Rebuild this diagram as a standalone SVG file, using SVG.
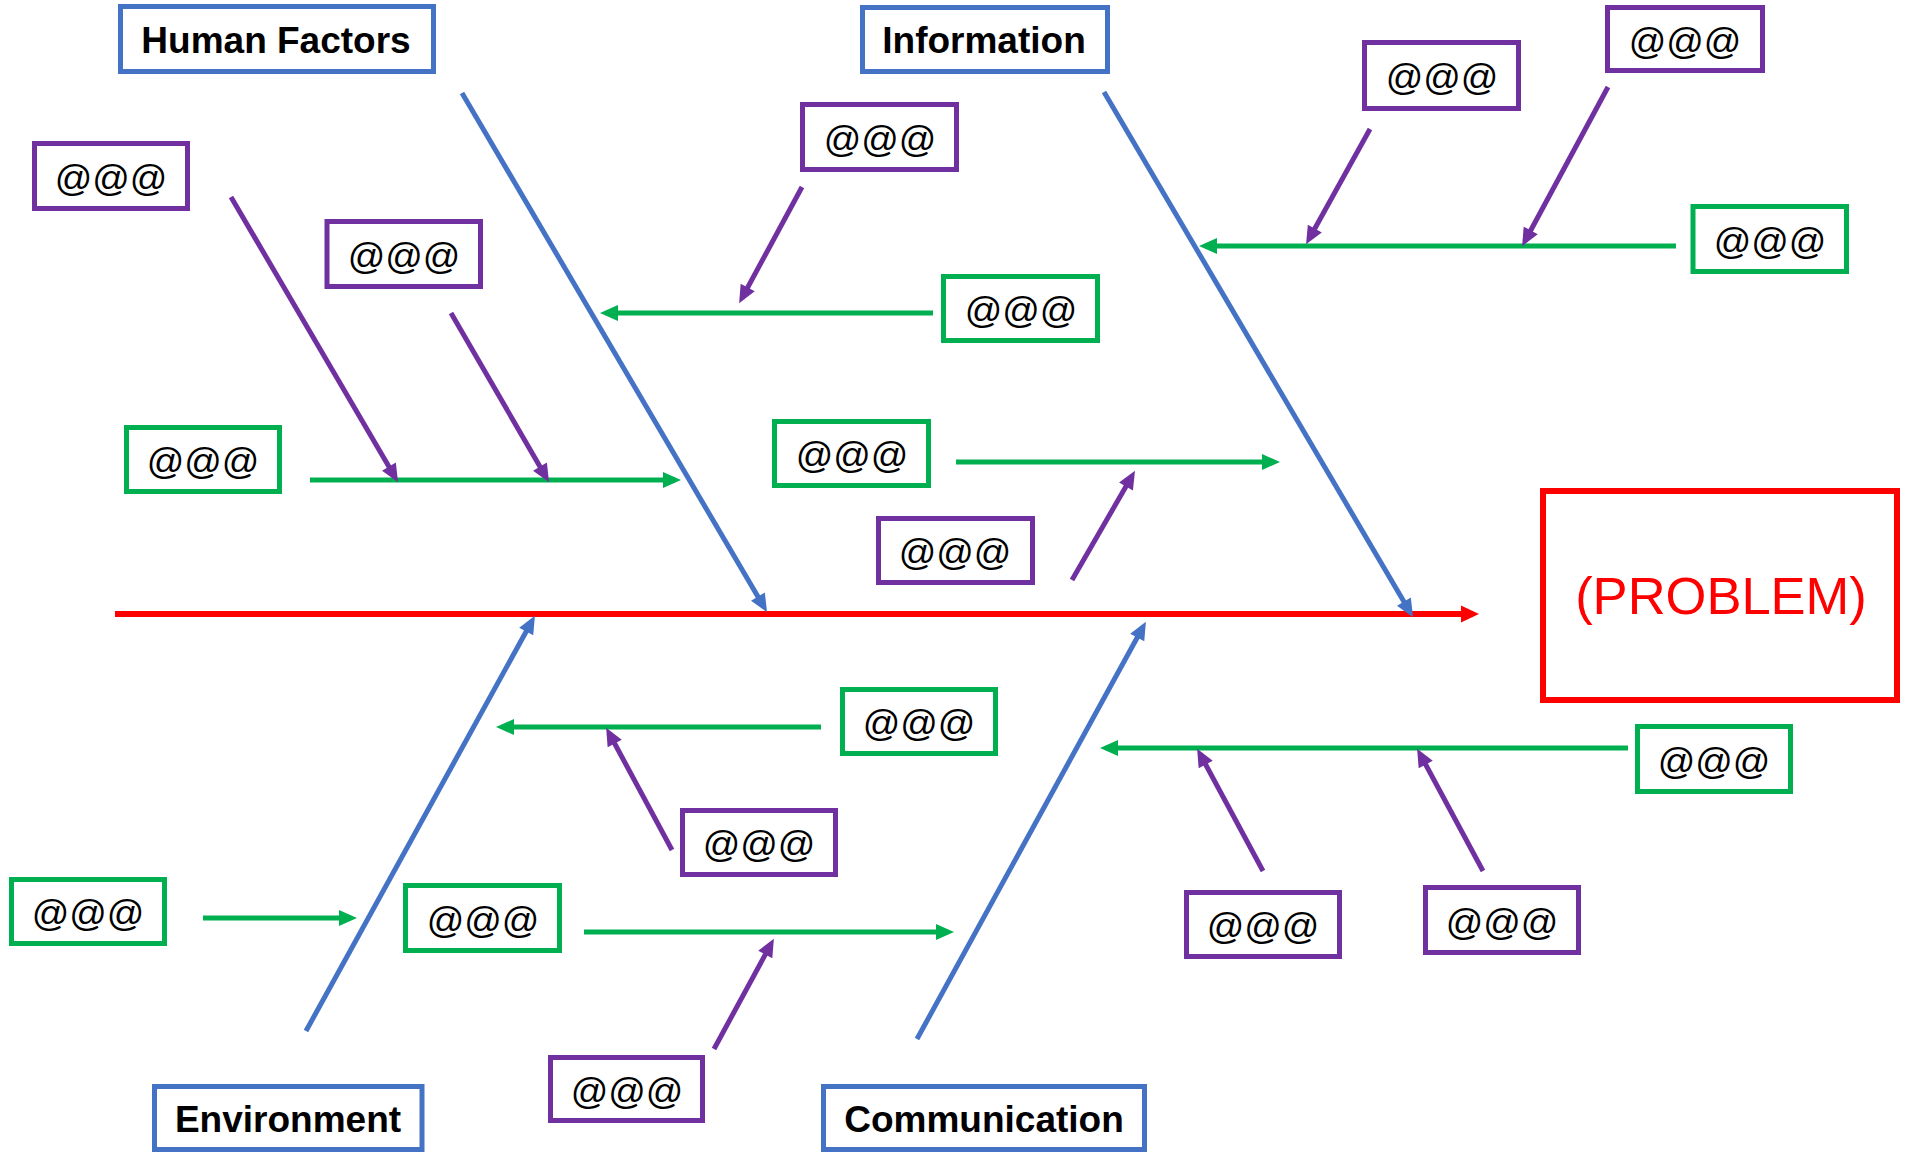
<svg xmlns="http://www.w3.org/2000/svg" width="1908" height="1153" viewBox="0 0 1908 1153">
<style>
.box{fill:#fff;stroke-width:5}
.pb{stroke:#7030A0}
.gb{stroke:#00B050}
.bb{stroke:#4472C4}
.at{font-family:"Liberation Sans",Arial,sans-serif;font-size:37px;fill:#000;text-anchor:middle}
.cat{font-family:"Liberation Sans",Arial,sans-serif;font-size:37px;font-weight:bold;fill:#000;text-anchor:middle}
.ln{fill:none;stroke-width:5}
.pl{stroke:#7030A0;marker-end:url(#ap)}
.gl{stroke:#00B050;marker-end:url(#ag)}
.bl{stroke:#4472C4;marker-end:url(#ab)}
.rl{stroke:#FF0000;stroke-width:6;marker-end:url(#ar)}
</style>
<defs>
<marker id="ap" markerUnits="userSpaceOnUse" markerWidth="18" markerHeight="16" refX="12" refY="8" orient="auto" overflow="visible"><path d="M0,0 L18,8 L0,16 z" fill="#7030A0"/></marker>
<marker id="ag" markerUnits="userSpaceOnUse" markerWidth="18" markerHeight="16" refX="12" refY="8" orient="auto" overflow="visible"><path d="M0,0 L18,8 L0,16 z" fill="#00B050"/></marker>
<marker id="ab" markerUnits="userSpaceOnUse" markerWidth="18" markerHeight="16" refX="12" refY="8" orient="auto" overflow="visible"><path d="M0,0 L18,8 L0,16 z" fill="#4472C4"/></marker>
<marker id="ar" markerUnits="userSpaceOnUse" markerWidth="18" markerHeight="17" refX="12" refY="8.5" orient="auto" overflow="visible"><path d="M0,0 L18,8.5 L0,17 z" fill="#FF0000"/></marker>
</defs>
<rect width="1908" height="1153" fill="#fff"/>

<g id="connectors">
<line class="ln rl" x1="115" y1="614" x2="1473" y2="614"/>
<line class="ln bl" x1="462" y1="93" x2="764" y2="607"/>
<line class="ln bl" x1="1104" y1="92" x2="1410" y2="612"/>
<line class="ln bl" x1="306" y1="1031" x2="532" y2="621"/>
<line class="ln bl" x1="917" y1="1039" x2="1143" y2="627"/>
<line class="ln gl" x1="310" y1="480" x2="675" y2="480"/>
<line class="ln gl" x1="933" y1="313" x2="606" y2="313"/>
<line class="ln gl" x1="1676" y1="246" x2="1205" y2="246"/>
<line class="ln gl" x1="956" y1="462" x2="1274" y2="462"/>
<line class="ln gl" x1="821" y1="727" x2="502" y2="727"/>
<line class="ln gl" x1="203" y1="918" x2="351" y2="918"/>
<line class="ln gl" x1="584" y1="932" x2="948" y2="932"/>
<line class="ln gl" x1="1628" y1="748" x2="1106" y2="748"/>
<line class="ln pl" x1="231" y1="197" x2="395" y2="477"/>
<line class="ln pl" x1="451" y1="313" x2="546" y2="477"/>
<line class="ln pl" x1="802" y1="187" x2="742" y2="298"/>
<line class="ln pl" x1="1370" y1="129" x2="1309" y2="239"/>
<line class="ln pl" x1="1608" y1="87" x2="1525" y2="241"/>
<line class="ln pl" x1="1072" y1="580" x2="1132" y2="476"/>
<line class="ln pl" x1="672" y1="850" x2="609" y2="733"/>
<line class="ln pl" x1="714" y1="1049" x2="771" y2="944"/>
<line class="ln pl" x1="1263" y1="871" x2="1200" y2="754"/>
<line class="ln pl" x1="1483" y1="871" x2="1420" y2="754"/>
</g>

<g id="problem"><rect x="1543" y="491" width="354" height="209" fill="#fff" stroke="#FF0000" stroke-width="6"/><text x="1721" y="614" font-family="'Liberation Sans',Arial,sans-serif" font-size="52.5" fill="#FF0000" text-anchor="middle">(PROBLEM)</text></g>

<g id="human-factors"><rect class="box bb" x="120.5" y="6.5" width="313" height="65"/><text class="cat" x="276" y="53">Human Factors</text></g>
<g id="information"><rect class="box bb" x="862.5" y="7.5" width="245" height="64"/><text class="cat" x="984" y="53">Information</text></g>
<g id="environment"><rect class="box bb" x="154.5" y="1086.5" width="267.5" height="63"/><text class="cat" x="288" y="1132">Environment</text></g>
<g id="communication"><rect class="box bb" x="823.5" y="1086.5" width="321" height="63"/><text class="cat" x="984" y="1132">Communication</text></g>

<g id="p1"><rect class="box pb" x="34.5" y="143.5" width="153" height="65"/><text class="at" x="111" y="191">@@@</text></g>
<g id="p2"><rect class="box pb" x="327" y="221.5" width="153.5" height="65"/><text class="at" x="404" y="269">@@@</text></g>
<g id="p3"><rect class="box pb" x="802.5" y="104.5" width="154" height="65"/><text class="at" x="880" y="152">@@@</text></g>
<g id="p4"><rect class="box pb" x="878.5" y="518.5" width="154" height="64"/><text class="at" x="955" y="565">@@@</text></g>
<g id="p5"><rect class="box pb" x="1364.5" y="42.5" width="154" height="66"/><text class="at" x="1442" y="90">@@@</text></g>
<g id="p6"><rect class="box pb" x="1607.5" y="7.5" width="155" height="63"/><text class="at" x="1685" y="54">@@@</text></g>
<g id="p7"><rect class="box pb" x="550.5" y="1057.5" width="152" height="63"/><text class="at" x="627" y="1104">@@@</text></g>
<g id="p8"><rect class="box pb" x="682.5" y="810.5" width="153" height="64"/><text class="at" x="759" y="857">@@@</text></g>
<g id="p9"><rect class="box pb" x="1186.5" y="892.5" width="153" height="64"/><text class="at" x="1263" y="939">@@@</text></g>
<g id="p10"><rect class="box pb" x="1425.5" y="887.5" width="153" height="65"/><text class="at" x="1502" y="935">@@@</text></g>

<g id="g1"><rect class="box gb" x="126.5" y="427.5" width="153" height="64"/><text class="at" x="203" y="474">@@@</text></g>
<g id="g2"><rect class="box gb" x="943.5" y="276.5" width="154" height="64"/><text class="at" x="1021" y="323">@@@</text></g>
<g id="g3"><rect class="box gb" x="1693" y="206.5" width="153.5" height="65"/><text class="at" x="1770" y="254">@@@</text></g>
<g id="g4"><rect class="box gb" x="774.5" y="421.5" width="154" height="64"/><text class="at" x="852" y="468">@@@</text></g>
<g id="g5"><rect class="box gb" x="842.5" y="689.5" width="153" height="64"/><text class="at" x="919" y="736">@@@</text></g>
<g id="g6"><rect class="box gb" x="11.5" y="879.5" width="153" height="64"/><text class="at" x="88" y="926">@@@</text></g>
<g id="g7"><rect class="box gb" x="405.5" y="885.5" width="154" height="65"/><text class="at" x="483" y="933">@@@</text></g>
<g id="g8"><rect class="box gb" x="1637.5" y="726.5" width="153" height="65"/><text class="at" x="1714" y="774">@@@</text></g>
</svg>
